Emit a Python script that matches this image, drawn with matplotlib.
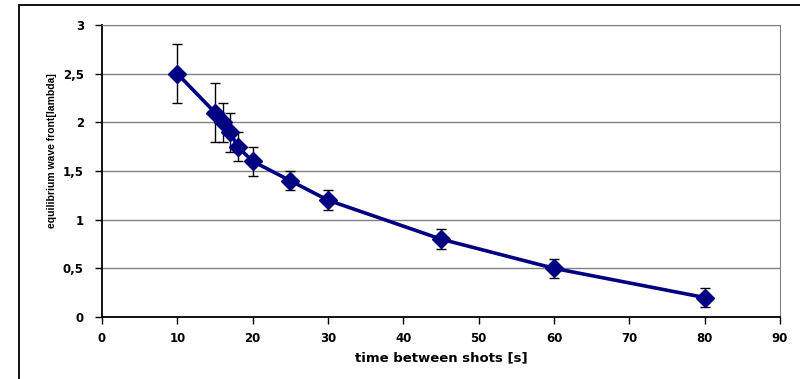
import matplotlib
matplotlib.use("Agg")
import matplotlib.pyplot as plt
from matplotlib.patches import Rectangle
from matplotlib.ticker import FuncFormatter, MultipleLocator

time_s = [10, 15, 16, 17, 18, 20, 25, 30, 45, 60, 80]
wavefront = [2.5, 2.1, 2.0, 1.9, 1.75, 1.6, 1.4, 1.2, 0.8, 0.5, 0.2]
err = [0.3, 0.3, 0.2, 0.2, 0.15, 0.15, 0.1, 0.1, 0.1, 0.1, 0.1]

x_label = "time between shots [s]"
y_label = "equilibrium wave front[lambda]"

plt.rcParams['font.family'] = ['Liberation Sans', 'DejaVu Sans']

fig = plt.figure(figsize=(8.0, 3.79), dpi=100)
ax = fig.add_axes([102/800, 1 - 317/379, (780 - 102)/800, (317 - 25)/379])

# outer chart frame
fig.patches.append(Rectangle((19/800, -0.2), 1.2, (379 - 4.5)/379 + 0.2,
                             transform=fig.transFigure, fill=False,
                             edgecolor='black', linewidth=1.3))

ax.errorbar(time_s, wavefront, yerr=err, fmt='none', ecolor='black',
            elinewidth=1.0, capsize=3.6, capthick=1.0, zorder=2)
ax.plot(time_s, wavefront, color='#000080', linewidth=2.6, marker='D',
        markersize=9, markerfacecolor='#000080', markeredgecolor='#000080',
        zorder=3)

ax.set_xlim(0, 90)
ax.set_ylim(0, 3)
ax.xaxis.set_major_locator(MultipleLocator(10))
ax.yaxis.set_major_locator(MultipleLocator(0.5))

def comma_fmt(v, pos):
    return ('%g' % v).replace('.', ',')

ax.yaxis.set_major_formatter(FuncFormatter(comma_fmt))
ax.xaxis.set_major_formatter(FuncFormatter(lambda v, p: '%d' % v))

ax.grid(axis='y', color='#808080', linewidth=1.0)
ax.set_axisbelow(True)

ax.spines['left'].set_color('black')
ax.spines['bottom'].set_color('black')
ax.spines['left'].set_linewidth(1.3)
ax.spines['bottom'].set_linewidth(1.3)
ax.spines['top'].set_color('#808080')
ax.spines['right'].set_color('#808080')

ax.tick_params(axis='both', direction='out', length=5, width=1, color='black',
               labelsize=8.5)
ax.tick_params(axis='y', pad=8)
ax.tick_params(axis='x', pad=6)
for lbl in ax.get_xticklabels() + ax.get_yticklabels():
    lbl.set_fontweight('bold')
    lbl.set_fontfamily(['DejaVu Sans'])

ax.set_xlabel(x_label, fontsize=9.5, fontweight='bold', family=['DejaVu Sans'])
ax.xaxis.set_label_coords(0.5, -(358 - 317) / 292, transform=ax.transAxes)
ax.xaxis.label.set_va('center')
ax.set_ylabel(y_label, fontsize=7.5, fontweight='bold')
ax.yaxis.set_label_coords(-(102 - 52) / 678, (317 - 151) / 292)
ax.yaxis.label.set_va('center')

fig.savefig('out.png', dpi=100, facecolor='white')
